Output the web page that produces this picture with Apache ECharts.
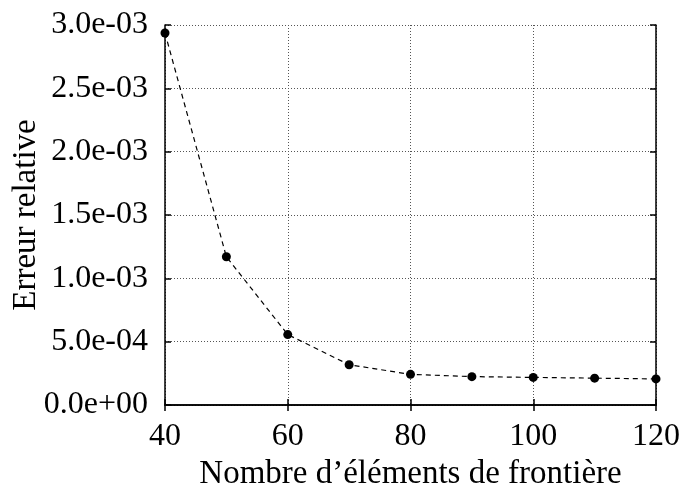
<!DOCTYPE html>
<html>
<head>
    <meta charset="UTF-8">
    <title>Erreur relative</title>
    <script src="https://cdn.jsdelivr.net/npm/echarts@6/dist/echarts.min.js"></script>
    <style>
        body { margin: 0; background: #fff; }
        #chart { width: 685px; height: 491px; }
    </style>
</head>
<body>
    <div id="chart"></div>
    <script type="text/javascript">
        // values
        var nbElements = [40, 50, 60, 70, 80, 90, 100, 110, 120];
        var erreur = [2.937e-3, 1.17e-3, 5.56e-4, 3.18e-4, 2.42e-4, 2.24e-4, 2.18e-4, 2.12e-4, 2.06e-4];
        var xTicks = [40, 60, 80, 100, 120];

        var font = 'Liberation Serif';

        function sci(v) {
            var s = v.toExponential(1);
            var parts = s.split('e');
            var sign = parts[1].charAt(0);
            var exp = parts[1].slice(1);
            if (exp.length < 2) exp = '0' + exp;
            return parts[0] + 'e' + sign + exp;
        }

        var chart = echarts.init(document.getElementById('chart'));

        var dotted = { show: true, lineStyle: { color: '#555', type: [1, 2], width: 1 } };

        var option = {
            animation: false,
            grid: { left: 165, right: 29, top: 25, bottom: 86, outerBoundsMode: 'none' },
            xAxis: [{
                type: 'value',
                min: xTicks[0],
                max: xTicks[xTicks.length - 1],
                interval: 20,
                name: 'Nombre d\u2019\u00e9l\u00e9ments de fronti\u00e8re',
                nameLocation: 'middle',
                nameGap: 52,
                nameTextStyle: { fontFamily: font, fontSize: 33, color: '#000' },
                axisLine: { lineStyle: { color: '#000', width: 1.5 } },
                axisTick: { inside: true, length: 6, lineStyle: { color: '#000', width: 1.5 } },
                axisLabel: { fontFamily: font, fontSize: 32, color: '#000', margin: 16 },
                splitLine: dotted
            }, {
                type: 'value',
                position: 'top',
                min: xTicks[0],
                max: xTicks[xTicks.length - 1],
                interval: 20,
                axisLine: { show: true, lineStyle: { color: '#000', width: 1.5 } },
                axisTick: { inside: true, length: 6, lineStyle: { color: '#000', width: 1.5 } },
                axisLabel: { show: false },
                splitLine: { show: false }
            }],
            yAxis: [{
                type: 'value',
                min: 0,
                max: 0.003,
                interval: 0.0005,
                name: 'Erreur relative',
                nameLocation: 'middle',
                nameGap: 122,
                nameMoveOverlap: false,
                nameTextStyle: { fontFamily: font, fontSize: 33, color: '#000' },
                axisLine: { show: true, lineStyle: { color: '#000', width: 1.5 } },
                axisTick: { show: true, inside: true, length: 6, lineStyle: { color: '#000', width: 1.5 } },
                axisLabel: { fontFamily: font, fontSize: 32, color: '#000', margin: 17, formatter: sci },
                splitLine: dotted
            }, {
                type: 'value',
                position: 'right',
                min: 0,
                max: 0.003,
                interval: 0.0005,
                axisLine: { show: true, lineStyle: { color: '#000', width: 1.5 } },
                axisTick: { show: true, inside: true, length: 6, lineStyle: { color: '#000', width: 1.5 } },
                axisLabel: { show: false },
                splitLine: { show: false }
            }],
            series: [{
                type: 'line',
                data: nbElements.map(function (x, i) { return [x, erreur[i]]; }),
                symbol: 'circle',
                symbolSize: 9,
                itemStyle: { color: '#000' },
                lineStyle: { color: '#000', width: 1.2, type: [5, 4] },
                clip: false
            }]
        };

        chart.setOption(option);
    </script>
</body>
</html>
